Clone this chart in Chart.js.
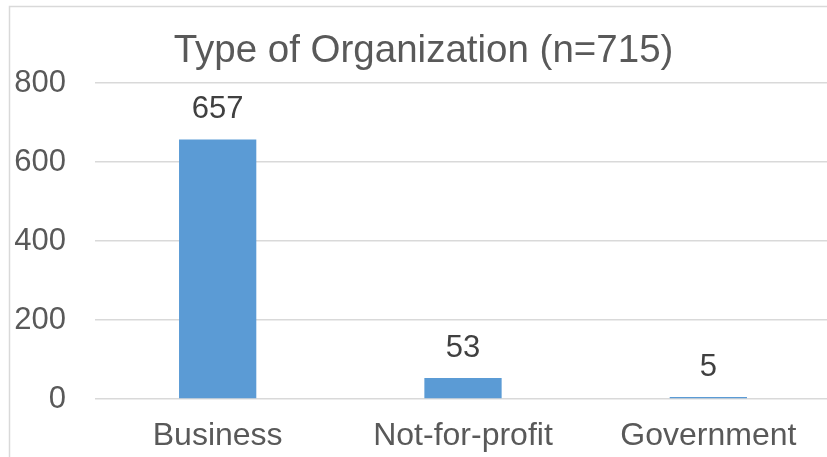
<!DOCTYPE html>
<html>
<head>
<meta charset="utf-8">
<script src="https://cdn.jsdelivr.net/npm/chart.js@4/dist/chart.umd.min.js"></script>
<style>
  html, body { margin: 0; padding: 0; background: #ffffff; overflow: hidden; }
  #wrap { width: 827px; height: 457px; overflow: hidden; }
</style>
</head>
<body>
<div id="wrap"><canvas id="c" width="831" height="457"></canvas></div>
<script>
const categories = ["Business", "Not-for-profit", "Government"];
const counts = [657, 53, 5];
const yTicks = [0, 200, 400, 600, 800];
const chartTitle = "Type of Organization (n=715)";

const FONT = "'Liberation Sans', Arial, sans-serif";

const framePlugin = {
  id: 'frame',
  beforeDraw(chart) {
    const ctx = chart.ctx;
    ctx.save();
    ctx.fillStyle = '#ffffff';
    ctx.fillRect(0, 0, chart.width, chart.height);
    ctx.strokeStyle = '#D9D9D9';
    ctx.lineWidth = 1.5;
    ctx.beginPath();
    ctx.moveTo(9.5, chart.height + 2);
    ctx.lineTo(9.5, 6.5);
    ctx.lineTo(chart.width + 2, 6.5);
    ctx.stroke();
    // chart title
    ctx.font = "38.5px " + FONT;
    ctx.fillStyle = '#595959';
    ctx.textAlign = 'center';
    ctx.textBaseline = 'alphabetic';
    ctx.fillText(chartTitle, 423.5, 62);
    ctx.restore();
  }
};

const valueLabels = {
  id: 'valueLabels',
  afterDatasetsDraw(chart) {
    const ctx = chart.ctx;
    ctx.save();
    ctx.font = "31px " + FONT;
    ctx.fillStyle = '#404040';
    ctx.textAlign = 'center';
    ctx.textBaseline = 'alphabetic';
    const meta = chart.getDatasetMeta(0);
    meta.data.forEach((bar, i) => {
      ctx.fillText(String(chart.data.datasets[0].data[i]), bar.x, bar.y - 21);
    });
    ctx.restore();
  }
};

new Chart(document.getElementById('c'), {
  type: 'bar',
  data: {
    labels: categories,
    datasets: [{
      data: counts,
      backgroundColor: '#5B9BD5',
      borderWidth: 0,
      categoryPercentage: 1.0,
      barPercentage: 0.315
    }]
  },
  options: {
    responsive: false,
    animation: false,
    layout: { padding: { left: 0, right: 0, top: 83, bottom: 2 } },
    plugins: {
      legend: { display: false },
      tooltip: { enabled: false },
      title: { display: false }
    },
    scales: {
      x: {
        afterFit(axis) { axis.height = 56; },
        grid: { display: false, drawTicks: false },
        border: { display: false },
        ticks: {
          color: '#595959',
          font: { family: FONT, size: 32 },
          padding: 18.4,
          maxRotation: 0
        }
      },
      y: {
        min: 0,
        max: 800,
        afterFit(axis) { axis.width = 95; },
        afterBuildTicks(axis) { axis.ticks = yTicks.map(v => ({ value: v })); },
        grid: { color: '#D9D9D9', lineWidth: 1.5, drawTicks: false },
        border: { display: false },
        ticks: {
          color: '#595959',
          font: { family: FONT, size: 31 },
          padding: 29
        }
      }
    }
  },
  plugins: [framePlugin, valueLabels]
});
</script>
</body>
</html>
